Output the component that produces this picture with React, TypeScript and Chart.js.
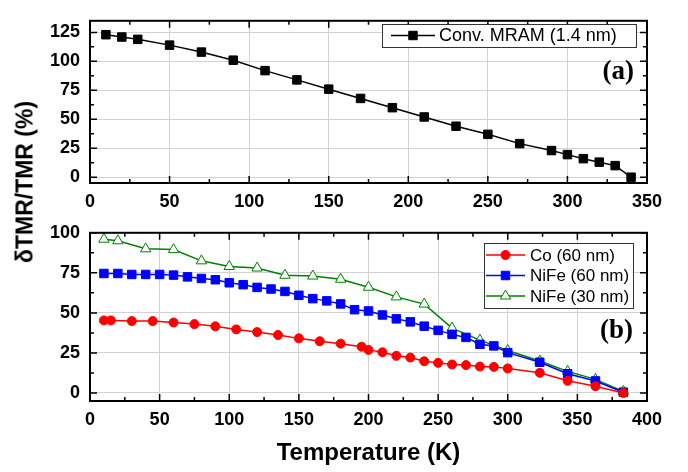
import React, { useEffect, useRef } from 'react';
import { Chart, registerables } from 'chart.js';

Chart.register(...registerables);

// ---------- data ----------
const MRAM_T = [10, 20, 30, 50, 70, 90, 110, 130, 150, 170, 190, 210, 230, 250, 270, 290, 300, 310, 320, 330, 340];
const MRAM_TMR = [123, 121, 119, 114, 108, 101, 92, 84, 76, 68, 60, 52, 44, 37, 29, 23, 19.5, 16, 13, 10, 0];

const CO_T = [10, 15, 30, 45, 60, 75, 90, 105, 120, 135, 150, 165, 180, 195, 200, 210, 220, 230, 240, 250, 260, 270, 280, 290, 300, 323, 343, 363, 383];
const CO_TMR = [45.3, 45.3, 44.9, 44.9, 44, 43, 41.6, 39.7, 38, 36.2, 34.1, 32.3, 30.8, 28.9, 26.9, 25.4, 23.2, 22.1, 19.8, 18.8, 17.8, 17.4, 16.5, 16.3, 15.3, 12.6, 7.6, 4.2, 0];

const NIFE60_T = [10, 20, 30, 40, 50, 60, 70, 80, 90, 100, 110, 120, 130, 140, 150, 160, 170, 180, 190, 200, 210, 220, 230, 240, 250, 260, 270, 280, 290, 300, 323, 343, 363, 383];
const NIFE60_TMR = [74.6, 74.6, 74, 74, 74, 73.6, 72.5, 71.5, 70.7, 68.8, 67.6, 65.9, 64.9, 63.4, 61, 58.9, 57.5, 55.6, 52, 51.2, 48.7, 46.3, 44.4, 41.7, 39.1, 36.6, 34.7, 30.4, 29.4, 25.2, 19.2, 12, 7.5, 0.5];

const NIFE30_T = [10, 20, 40, 60, 80, 100, 120, 140, 160, 180, 200, 220, 240, 260, 280, 300, 323, 343, 363, 383];
const NIFE30_TMR = [96, 95, 90, 89.5, 82.5, 79, 78, 73.5, 73, 71, 66, 60, 55.5, 40.5, 33, 26.5, 20, 13.5, 8.5, 1];

const TOP_X_TICKS = [0, 50, 100, 150, 200, 250, 300, 350];
const TOP_Y_TICKS = [0, 25, 50, 75, 100, 125];
const BOT_X_TICKS = [0, 50, 100, 150, 200, 250, 300, 350, 400];
const BOT_Y_TICKS = [0, 25, 50, 75, 100];

const MRAM_LABEL = 'Conv. MRAM (1.4 nm)';
const CO_LABEL = 'Co (60 nm)';
const NIFE60_LABEL = 'NiFe (60 nm)';
const NIFE30_LABEL = 'NiFe (30 nm)';
const PANEL_A = '(a)';
const PANEL_B = '(b)';
const X_TITLE = 'Temperature (K)';
const Y_TITLE = 'δTMR/TMR (%)';

// ---------- styles ----------
const SANS = "'Liberation Sans', Arial, Helvetica, sans-serif";
const SERIF = "'Liberation Serif', 'Times New Roman', serif";
const GRID = '#d2d2d2';

const pts = (xs: number[], ys: number[]) => xs.map((x, i) => ({ x, y: ys[i] }));

function drawMarker(ctx: CanvasRenderingContext2D, style: string, x: number, y: number, r: number, stroke: string, fill: string) {
  ctx.save();
  ctx.beginPath();
  if (style === 'rect') {
    const s = Math.SQRT1_2 * r;
    ctx.rect(x - s, y - s, 2 * s, 2 * s);
  } else if (style === 'triangle') {
    let a = 0;
    ctx.moveTo(x + Math.sin(a) * r, y - Math.cos(a) * r);
    a += (2 * Math.PI) / 3;
    ctx.lineTo(x + Math.sin(a) * r, y - Math.cos(a) * r);
    a += (2 * Math.PI) / 3;
    ctx.lineTo(x + Math.sin(a) * r, y - Math.cos(a) * r);
    ctx.closePath();
  } else {
    ctx.arc(x, y, r, 0, Math.PI * 2);
  }
  ctx.fillStyle = fill;
  ctx.fill();
  ctx.lineWidth = 1;
  ctx.strokeStyle = stroke;
  ctx.stroke();
  ctx.restore();
}

type PanelCfg = {
  height: number;
  padTop: number;
  xAxisH: number;
  xMax: number;
  xTicks: number[];
  yMin: number;
  yMax: number;
  yTicks: number[];
  xTitle: boolean;
  legend: { x: number; y: number; w: number; h: number; rowY: number; rowH: number; s0: number; s1: number; tx: number; font: number };
  panel: { text: string; x: number; y: number };
  datasets: any[];
};

function frameAndOverlay(cfg: PanelCfg) {
  return {
    id: 'frameOverlay',
    afterDatasetsDraw(chart: any) {
      const { ctx, chartArea } = chart;
      const { left, right, top, bottom } = chartArea;
      const xs = chart.scales.x;
      const ys = chart.scales.y;
      ctx.save();
      ctx.strokeStyle = '#000';
      ctx.lineWidth = 1.5;
      ctx.beginPath();
      const xStep = cfg.xTicks[1] - cfg.xTicks[0];
      for (let v = 0; v <= cfg.xMax + 0.001; v += xStep / 2) {
        const px = xs.getPixelForValue(v);
        const major = Math.abs(v / xStep - Math.round(v / xStep)) < 1e-6;
        const len = major ? 7 : 4;
        ctx.moveTo(px, bottom);
        ctx.lineTo(px, bottom - len);
        ctx.moveTo(px, top);
        ctx.lineTo(px, top + len);
      }
      const yStep = cfg.yTicks[1] - cfg.yTicks[0];
      for (let v = 0; v <= cfg.yMax + 0.001; v += yStep / 2) {
        const py = ys.getPixelForValue(v);
        const major = Math.abs(v / yStep - Math.round(v / yStep)) < 1e-6;
        const len = major ? 7 : 4;
        ctx.moveTo(left, py);
        ctx.lineTo(left + len, py);
        ctx.moveTo(right, py);
        ctx.lineTo(right - len, py);
      }
      ctx.stroke();
      ctx.lineWidth = 2;
      ctx.strokeRect(left, top, right - left, bottom - top);
      ctx.restore();
    },
    afterDraw(chart: any) {
      const ctx = chart.ctx as CanvasRenderingContext2D;
      const L = cfg.legend;
      ctx.save();
      ctx.fillStyle = '#fff';
      ctx.fillRect(L.x, L.y, L.w, L.h);
      ctx.strokeStyle = '#333';
      ctx.lineWidth = 1;
      ctx.strokeRect(L.x + 0.5, L.y + 0.5, L.w, L.h);
      chart.data.datasets.forEach((ds: any, i: number) => {
        const cy = L.rowY + i * L.rowH;
        ctx.strokeStyle = ds.borderColor;
        ctx.lineWidth = 1.5;
        ctx.beginPath();
        ctx.moveTo(L.s0, cy);
        ctx.lineTo(L.s1, cy);
        ctx.stroke();
        drawMarker(ctx, ds.pointStyle, (L.s0 + L.s1) / 2, cy, ds.pointRadius, ds.pointBorderColor, ds.pointBackgroundColor);
        ctx.fillStyle = '#000';
        ctx.font = `${L.font}px ${SANS}`;
        ctx.textAlign = 'left';
        ctx.textBaseline = 'middle';
        ctx.fillText(ds.label, L.tx, cy + 1);
      });
      ctx.fillStyle = '#000';
      ctx.font = `bold 27px ${SERIF}`;
      ctx.textAlign = 'right';
      ctx.textBaseline = 'middle';
      ctx.fillText(cfg.panel.text, cfg.panel.x, cfg.panel.y);
      ctx.restore();
    },
  };
}

function buildChart(canvas: HTMLCanvasElement, cfg: PanelCfg) {
  const tickFont = { family: SANS, size: 18, weight: 'bold' as const };
  return new Chart(canvas, {
    type: 'line',
    data: { datasets: cfg.datasets },
    options: {
      responsive: false,
      maintainAspectRatio: false,
      animation: false,
      layout: { padding: { left: 0, right: 41, top: cfg.padTop, bottom: 0 } },
      plugins: { legend: { display: false }, tooltip: { enabled: false }, title: { display: false } },
      scales: {
        x: {
          type: 'linear',
          min: 0,
          max: cfg.xMax,
          afterBuildTicks: (s: any) => {
            s.ticks = cfg.xTicks.map((v) => ({ value: v }));
          },
          afterFit: (s: any) => {
            s.height = cfg.xAxisH;
          },
          grid: { color: GRID, lineWidth: 1, drawTicks: false },
          border: { display: false },
          ticks: { padding: 8, color: '#000', font: tickFont, maxRotation: 0, autoSkip: false },
          title: {
            display: cfg.xTitle,
            text: X_TITLE,
            color: '#000',
            font: { family: SANS, size: 24, weight: 'bold' },
            padding: { top: 0, bottom: 4 },
          },
        },
        y: {
          type: 'linear',
          min: cfg.yMin,
          max: cfg.yMax,
          afterBuildTicks: (s: any) => {
            s.ticks = cfg.yTicks.map((v) => ({ value: v }));
          },
          afterFit: (s: any) => {
            s.width = 90;
          },
          grid: { color: GRID, lineWidth: 1, drawTicks: false },
          border: { display: false },
          ticks: { padding: 10, color: '#000', font: tickFont, autoSkip: false },
        },
      },
    } as any,
    plugins: [frameAndOverlay(cfg)],
  });
}

const lineDs = (label: string, xs: number[], ys: number[], color: string, style: string, r: number, fill: string) => ({
  label,
  data: pts(xs, ys),
  borderColor: color,
  backgroundColor: color,
  borderWidth: 1.5,
  pointStyle: style,
  pointRadius: r,
  pointBorderColor: color,
  pointBackgroundColor: fill,
  pointBorderWidth: 1,
  tension: 0,
  fill: false,
  clip: false,
});

export default function App() {
  const topRef = useRef<HTMLCanvasElement>(null);
  const botRef = useRef<HTMLCanvasElement>(null);

  useEffect(() => {
    document.body.style.margin = '0';
    const topCfg: PanelCfg = {
      height: 212,
      padTop: 5,
      xAxisH: 29,
      xMax: 350,
      xTicks: TOP_X_TICKS,
      yMin: -5,
      yMax: 135,
      yTicks: TOP_Y_TICKS,
      xTitle: false,
      legend: { x: 382, y: 24, w: 254, h: 23, rowY: 35.5, rowH: 21, s0: 391, s1: 435, tx: 439, font: 18 },
      panel: { text: PANEL_A, x: 634, y: 72 },
      datasets: [lineDs(MRAM_LABEL, MRAM_T, MRAM_TMR, '#000000', 'rect', 6, '#000000')],
    };
    const botCfg: PanelCfg = {
      height: 260,
      padTop: 8,
      xAxisH: 71,
      xMax: 400,
      xTicks: BOT_X_TICKS,
      yMin: -5,
      yMax: 100,
      yTicks: BOT_Y_TICKS,
      xTitle: true,
      legend: { x: 484, y: 31, w: 149, h: 65, rowY: 43, rowH: 20.5, s0: 486, s1: 525, tx: 530, font: 17 },
      panel: { text: PANEL_B, x: 633, y: 119 },
      datasets: [
        lineDs(CO_LABEL, CO_T, CO_TMR, '#ff0000', 'circle', 4.5, '#ff0000'),
        lineDs(NIFE60_LABEL, NIFE60_T, NIFE60_TMR, '#0000ff', 'rect', 6, '#0000ff'),
        lineDs(NIFE30_LABEL, NIFE30_T, NIFE30_TMR, '#008000', 'triangle', 6, '#ffffff'),
      ],
    };
    const a = buildChart(topRef.current!, topCfg);
    const b = buildChart(botRef.current!, botCfg);
    return () => {
      a.destroy();
      b.destroy();
    };
  }, []);

  return (
    <div style={{ position: 'relative', width: 688, height: 472, background: '#fff', overflow: 'hidden' }}>
      <canvas ref={topRef} width={688} height={212} style={{ position: 'absolute', left: 0, top: 0, width: 688, height: 212 }} />
      <canvas ref={botRef} width={688} height={260} style={{ position: 'absolute', left: 0, top: 212, width: 688, height: 260 }} />
      <div
        style={{
          position: 'absolute',
          left: 25,
          top: 182,
          transform: 'translate(-50%, -50%) rotate(-90deg)',
          whiteSpace: 'nowrap',
          fontFamily: SANS,
          fontWeight: 'bold',
          fontSize: 23,
          lineHeight: 1,
          color: '#000',
        }}
      >
        {Y_TITLE}
      </div>
    </div>
  );
}
